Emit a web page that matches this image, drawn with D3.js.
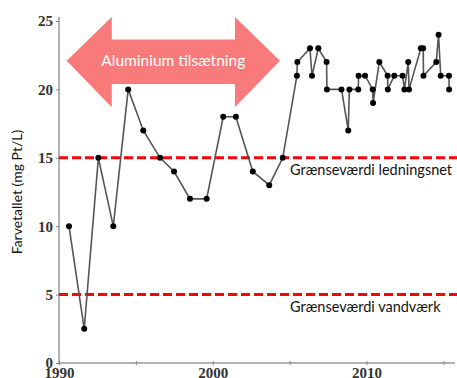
<!DOCTYPE html>
<html>
<head>
<meta charset="utf-8">
<script src="https://cdn.jsdelivr.net/npm/d3@7"></script>
<style>
  body { margin: 0; background: #fff; }
  svg { display: block; }
  .tick text { font-family: "Liberation Serif", serif; font-weight: bold; font-size: 15px; fill: #333; }
  .label { font-family: Lato, "Open Sans", sans-serif; fill: #111; }
</style>
</head>
<body>
<div id="chart"></div>
<script>
// measurements: decimal year and colour value (mg Pt/L)
const years = [
  1990.65, 1991.64, 1992.56, 1993.53, 1994.5, 1995.48, 1996.57, 1997.48,
  1998.52, 1999.6, 2000.68, 2001.5, 2002.6, 2003.67, 2004.55,
  2005.47, 2005.5, 2006.32, 2006.45, 2006.86, 2007.4, 2007.42,
  2008.37, 2008.81, 2008.88, 2009.46, 2009.48, 2009.9,
  2010.4, 2010.42, 2010.83, 2011.37, 2011.38, 2011.8,
  2012.34, 2012.46, 2012.71, 2012.76, 2013.53, 2013.68, 2013.7,
  2014.53, 2014.68, 2014.82, 2015.36, 2015.37
];
const values = [
  10, 2.5, 15, 10, 20, 17, 15, 14,
  12, 12, 18, 18, 14, 13, 15,
  21, 22, 23, 21, 23, 22, 20,
  20, 17, 20, 20, 21, 21,
  20, 19, 22, 21, 20, 21,
  21, 20, 22, 20, 23, 23, 21,
  22, 24, 21, 21, 20
];
const limits = [
  {value: 15, text: "Grænseværdi ledningsnet"},
  {value: 5, text: "Grænseværdi vandværk"}
];
const yTicks = [0, 5, 10, 15, 20, 25];
const xTicks = [1990, 1995, 2000, 2005, 2010, 2015];
const xLabels = [1990, 2000, 2010];

const data = years.map((d, i) => ({year: d, value: values[i]}));

let width = 457, height = 378;
let svg = d3.select("#chart").append("svg")
    .attr("width", width)
    .attr("height", height);

let x = d3.scaleLinear().domain([1990, 2015.75]).range([59, 455]);
let y = d3.scaleLinear().domain([0, 25]).range([363, 21]);

// arrow annotation (in data units)
let arrow = [
  [1990.5, 22.1], [1993.43, 25.3], [1993.43, 23.65], [2001.44, 23.65],
  [2001.44, 25.3], [2004.37, 22.1], [2001.44, 18.7], [2001.44, 20.4],
  [1993.43, 20.4], [1993.43, 18.7]
];
svg.append("polygon")
    .attr("points", arrow.map(p => x(p[0]) + "," + y(p[1])).join(" "))
    .attr("fill", "#f97a7a");
svg.append("text")
    .attr("class", "label")
    .attr("x", x(1997.43))
    .attr("y", y(22.1))
    .attr("dy", "0.35em")
    .attr("text-anchor", "middle")
    .style("fill", "#fff")
    .style("font-size", "15.5px")
    .text("Aluminium tilsætning");

// axes
let yAxis = d3.axisLeft(y).tickValues(yTicks).tickSize(3).tickPadding(3);
let gy = svg.append("g").attr("transform", "translate(59,0)").call(yAxis);

let xAxis = d3.axisBottom(x).tickValues(xTicks).tickSize(2)
    .tickFormat(d => xLabels.includes(d) ? d : "");
let gx = svg.append("g").attr("transform", "translate(0,363)").call(xAxis);
gx.selectAll(".tick line").attr("y1", -2).attr("y2", 2);
gx.selectAll(".tick text").attr("y", 4);

svg.selectAll(".domain").attr("stroke", "#999").attr("stroke-width", 1.5);
svg.selectAll(".tick line").attr("stroke", "#888");
// drop the outer tick ends of the domain paths
gy.select(".domain").attr("d", "M0," + y(25.3) + "V363");
gx.select(".domain").attr("d", "M59,0H455");

// limit lines
svg.selectAll(".limit")
    .data(limits)
    .enter().append("line")
    .attr("class", "limit")
    .attr("x1", 59)
    .attr("x2", 457)
    .attr("y1", d => y(d.value))
    .attr("y2", d => y(d.value))
    .attr("stroke", "#ff0000")
    .attr("stroke-width", 3)
    .attr("stroke-dasharray", "9,4");

svg.selectAll(".limitLabel")
    .data(limits)
    .enter().append("text")
    .attr("class", "label")
    .attr("x", 290)
    .attr("y", d => y(d.value) + 17)
    .style("font-size", "14.5px")
    .text(d => d.text);

// series
let line = d3.line().x(d => x(d.year)).y(d => y(d.value));
svg.append("path")
    .datum(data)
    .attr("d", line)
    .attr("fill", "none")
    .attr("stroke", "#555")
    .attr("stroke-width", 1.6);

svg.selectAll(".pt")
    .data(data)
    .enter().append("circle")
    .attr("class", "pt")
    .attr("cx", d => x(d.year))
    .attr("cy", d => y(d.value))
    .attr("r", 3)
    .attr("fill", "#000");

// y label
svg.append("text")
    .attr("class", "label")
    .attr("transform", "translate(22,192) rotate(-90)")
    .attr("text-anchor", "middle")
    .style("font-size", "14px")
    .text("Farvetallet (mg Pt/L)");
</script>
</body>
</html>
